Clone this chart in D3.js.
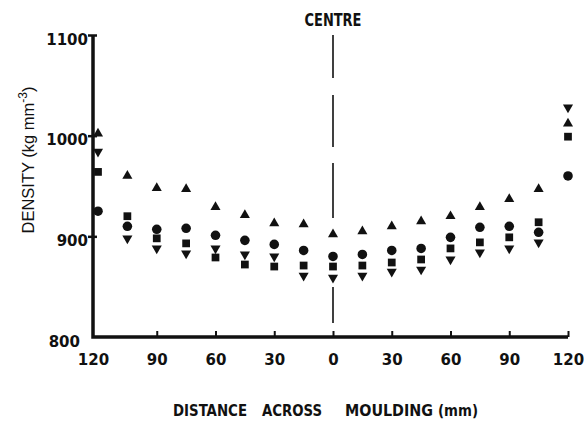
<!DOCTYPE html>
<html>
<head>
<meta charset="utf-8">
<script src="https://cdn.jsdelivr.net/npm/d3@7/dist/d3.min.js"></script>
<style>
body{margin:0;background:#fff}
</style>
</head>
<body>
<svg id="svg" width="584" height="421"></svg>
<script>
// distance across moulding (mm), negative = left of centre
var positions = [-120,-105,-90,-75,-60,-45,-30,-15,0,15,30,45,60,75,90,105,120];
var circleVals = [925,910,907,908,901,896,892,886,880,882,886,888,899,909,910,904,960];
var squareVals = [964,920,898,893,879,872,870,871,870,871,874,877,888,894,899,914,999];
var upVals     = [1002,960,948,947,929,921,913,912,902,905,910,915,920,929,937,947,1012];
var downVals   = [984,898,888,883,888,882,880,861,859,861,865,867,877,884,888,894,1028];
var xTicks = [-120,-90,-60,-30,0,30,60,90,120];
var yTicks = [800,900,1000,1100];

var svg = d3.select("#svg");
var ink = "#111";

var x = d3.scaleLinear().domain([-120,120]).range([98,568]);
var y = d3.scaleLinear().domain([800,1100]).range([337,35]);

// centre line
svg.append("line")
 .attr("x1", x(0)).attr("x2", x(0))
 .attr("y1", y(1100)).attr("y2", 323)
 .style("stroke", ink)
 .style("stroke-width", 1.6)
 .style("stroke-dasharray", "43,17,52,16,55,69,36");

svg.append("text")
 .attr("x", x(0)).attr("y", 26)
 .attr("text-anchor", "middle")
 .attr("textLength", 57).attr("lengthAdjust", "spacingAndGlyphs")
 .style("font-family", "'DejaVu Sans Condensed','DejaVu Sans',sans-serif")
 .style("font-weight", "bold").style("font-size", "17px")
 .style("fill", ink)
 .text("CENTRE");

// y axis
var yAxis = svg.append("g")
 .attr("transform", "translate(93,0)")
 .call(d3.axisLeft(y).tickValues(yTicks).tickFormat(d3.format("d")).tickSize(5).tickPadding(0));
yAxis.select(".domain").remove();
yAxis.selectAll(".tick line")
 .attr("x1", 4)
 .style("stroke", ink).style("stroke-width", 2.5)
 .style("display", function(d){ return d == 800 ? "none" : null; });
yAxis.selectAll(".tick text")
 .attr("dy", "0.6em")
 .attr("x", function(d){ return d == 800 ? -13 : -5; })
 .style("font-family", "'DejaVu Sans',sans-serif")
 .style("font-weight", "bold").style("font-size", "15px")
 .style("fill", ink);

// x axis
var xAxis = svg.append("g")
 .attr("transform", "translate(0,337)")
 .call(d3.axisBottom(x).tickValues(xTicks)
   .tickFormat(function(d){ return Math.abs(d); })
   .tickSizeInner(-6).tickSizeOuter(0).tickPadding(17));
xAxis.select(".domain").remove();
xAxis.selectAll(".tick line")
 .style("stroke", ink).style("stroke-width", 2)
 .style("display", function(d){ return d == -120 ? "none" : null; });
xAxis.selectAll(".tick text")
 .attr("x", function(d){ return d == -120 ? -5 : 0; })
 .style("font-family", "'DejaVu Sans',sans-serif")
 .style("font-weight", "bold").style("font-size", "15px")
 .style("fill", ink);

// heavy axis lines
svg.append("path")
 .attr("d", "M93," + y(1100) + "V337H" + x(120))
 .style("fill", "none").style("stroke", ink).style("stroke-width", 3.5);

// markers
var series = [
 {vals: circleVals, type: d3.symbolCircle, size: 72, rot: 0},
 {vals: squareVals, type: d3.symbolSquare, size: 60, rot: 0},
 {vals: upVals, type: d3.symbolTriangle, size: 44, rot: 0},
 {vals: downVals, type: d3.symbolTriangle, size: 44, rot: 180}
];
series.forEach(function(s){
 svg.append("g").selectAll("path")
  .data(s.vals)
  .enter().append("path")
  .attr("d", d3.symbol().type(s.type).size(s.size))
  .attr("transform", function(d,i){
    return "translate(" + x(positions[i]) + "," + y(d) + ") rotate(" + s.rot + ")";
  })
  .style("fill", ink);
});

// axis titles
var ylab = svg.append("text")
 .attr("transform", "translate(34,160) rotate(-90)")
 .attr("text-anchor", "middle")
 .style("font-family", "'Liberation Sans',Arial,sans-serif")
 .style("font-size", "16.5px")
 .style("fill", ink);
ylab.append("tspan").text("DENSITY (kg mm");
ylab.append("tspan").attr("dy", -7).style("font-size", "12px").text("-3");
ylab.append("tspan").attr("dy", 7).text(")");

var words = [
 {t: "DISTANCE", x0: 173, w: 74},
 {t: "ACROSS", x0: 262, w: 60},
 {t: "MOULDING", x0: 345, w: 88},
 {t: "(mm)", x0: 438, w: 40}
];
svg.append("g").selectAll("text")
 .data(words)
 .enter().append("text")
 .attr("x", function(d){ return d.x0; })
 .attr("y", 416)
 .attr("textLength", function(d){ return d.w; })
 .attr("lengthAdjust", "spacingAndGlyphs")
 .style("font-family", "'DejaVu Sans Condensed','DejaVu Sans',sans-serif")
 .style("font-weight", "bold").style("font-size", "16px")
 .style("fill", ink)
 .text(function(d){ return d.t; });
</script>
</body>
</html>
